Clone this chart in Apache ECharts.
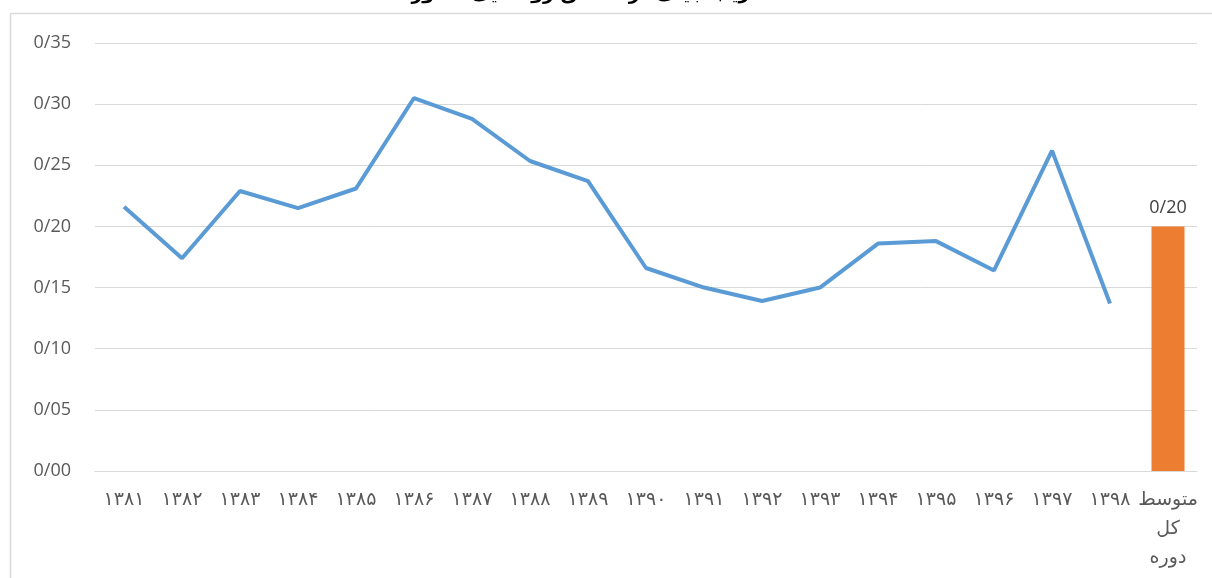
<!DOCTYPE html>
<html><head><meta charset="utf-8">
<script src="https://cdn.jsdelivr.net/npm/echarts@6/dist/echarts.min.js"></script>
<style>html,body{margin:0;padding:0;background:#fff}#c{width:1212px;height:578px}</style>
</head><body><div id="c"></div>
<script>
const titleText = 'ضریب جینی در مناطق روستایی کشور';
const categories = ['۱۳۸۱','۱۳۸۲','۱۳۸۳','۱۳۸۴','۱۳۸۵','۱۳۸۶','۱۳۸۷','۱۳۸۸','۱۳۸۹','۱۳۹۰','۱۳۹۱','۱۳۹۲','۱۳۹۳','۱۳۹۴','۱۳۹۵','۱۳۹۶','۱۳۹۷','۱۳۹۸','متوسط\nکل\nدوره'];
const yearlyValues = [0.216,0.174,0.229,0.215,0.231,0.305,0.288,0.2535,0.237,0.166,0.150,0.139,0.150,0.186,0.188,0.164,0.262,0.137,null];
const averageValues = [null,null,null,null,null,null,null,null,null,null,null,null,null,null,null,null,null,null,0.20];
const yTicks = {min:0, max:0.35, interval:0.05};
function fmt(v){ return '0/' + String(Math.round(v*100)).padStart(2,'0'); }

const chart = echarts.init(document.getElementById('c'));
chart.setOption({
  animation:false,
  graphic:[
    {type:'rect', shape:{x:10.5,y:13.5,width:1220,height:600}, style:{fill:'none',stroke:'#d9d9d9',lineWidth:1.5}, silent:true},
    {type:'text', x:590, y:4, style:{text:titleText, fill:'#000', font:'bold 19px "DejaVu Sans"', textAlign:'center', textVerticalAlign:'bottom'}}
  ],
  grid:{left:95,right:15,top:43,bottom:107},
  xAxis:{type:'category', data:categories,
    axisLine:{lineStyle:{color:'#d9d9d9',width:1}}, axisTick:{show:false},
    axisLabel:{color:'#595959', fontSize:19, fontFamily:'DejaVu Sans', margin:15, lineHeight:29, interval:0}},
  yAxis:{type:'value', min:yTicks.min, max:yTicks.max, interval:yTicks.interval,
    axisLine:{show:false}, axisTick:{show:false},
    splitLine:{lineStyle:{color:'#d9d9d9',width:1}},
    axisLabel:{color:'#595959', fontSize:18, fontFamily:'Open Sans', margin:24, formatter:fmt}},
  series:[
    {type:'line', data:yearlyValues, symbol:'none', lineStyle:{color:'#5b9bd5',width:4}, connectNulls:false},
    {type:'bar', data:averageValues, barWidth:33, barGap:'-100%', itemStyle:{color:'#ed7d31'},
      label:{show:true, position:'top', distance:10, color:'#404040', fontSize:18, fontFamily:'Open Sans', formatter:p=>fmt(p.value)}}
  ]
});
</script></body></html>
